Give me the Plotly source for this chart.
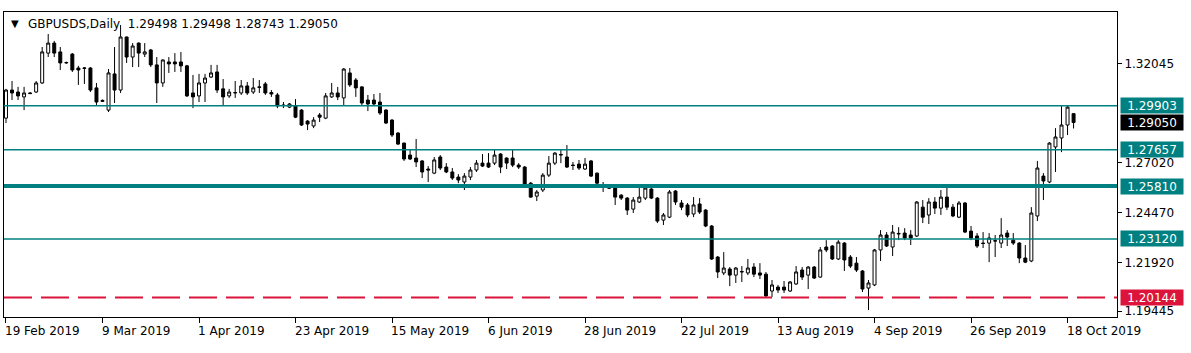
import plotly.graph_objects as go

# ---- data ----
open_ = [1.2927,1.3070,1.3060,1.3035,1.3055,1.3060,1.3106,1.3258,1.3309,1.3264,
         1.3208,1.3253,1.3182,1.3180,1.3182,1.3081,1.3012,1.2968,1.3152,1.3070,
         1.3340,1.3238,1.3309,1.3253,1.3274,1.3198,1.3106,1.3213,1.3213,1.3213,
         1.3193,1.3055,1.3040,1.3106,1.3136,1.3162,1.3076,1.3040,1.3055,1.3055,
         1.3091,1.3060,1.3086,1.3101,1.3057,1.3045,1.2994,1.2983,1.2989,1.2968,
         1.2912,1.2887,1.2943,1.2927,1.3035,1.3055,1.3030,1.3157,1.3121,1.3086,
         1.3019,1.3019,1.3009,1.2968,1.2917,1.2851,1.2800,1.2739,1.2724,1.2709,
         1.2668,1.2647,1.2729,1.2678,1.2653,1.2627,1.2602,1.2627,1.2663,1.2698,
         1.2698,1.2698,1.2744,1.2724,1.2724,1.2688,1.2678,1.2596,1.2530,1.2561,
         1.2637,1.2698,1.2739,1.2729,1.2688,1.2693,1.2668,1.2709,1.2647,1.2586,
         1.2573,1.2571,1.2535,1.2520,1.2464,1.2500,1.2520,1.2566,1.2520,1.2408,
         1.2423,1.2556,1.2495,1.2485,1.2439,1.2490,1.2459,1.2378,1.2220,1.2139,
         1.2159,1.2128,1.2144,1.2139,1.2169,1.2139,1.2133,1.2047,1.2067,1.2067,
         1.2047,1.2083,1.2154,1.2128,1.2169,1.2118,1.2271,1.2276,1.2210,1.2291,
         1.2220,1.2189,1.2149,1.2062,1.2078,1.2256,1.2332,1.2271,1.2337,1.2342,
         1.2332,1.2327,1.2474,1.2434,1.2500,1.2469,1.2525,1.2474,1.2423,1.2495,
         1.2352,1.2327,1.2291,1.2291,1.2301,1.2291,1.2342,1.2306,1.2291,1.2215,
         1.2200,1.2429,1.2632,1.2602,1.2780,1.2826,1.2892,1.29498]
high = [1.3076,1.3116,1.3086,1.3086,1.3060,1.3116,1.3289,1.3355,1.3320,1.3289,
        1.3215,1.3258,1.3193,1.3187,1.3187,1.3106,1.3022,1.3177,1.3289,1.3401,
        1.3342,1.3309,1.3312,1.3309,1.3279,1.3238,1.3226,1.3238,1.3258,1.3264,
        1.3198,1.3147,1.3152,1.3152,1.3198,1.3198,1.3126,1.3076,1.3116,1.3121,
        1.3111,1.3131,1.3121,1.3111,1.3070,1.3055,1.3009,1.3004,1.3024,1.2973,
        1.2917,1.2932,1.2953,1.3055,1.3106,1.3086,1.3182,1.3182,1.3131,1.3089,
        1.3045,1.3050,1.3055,1.2973,1.2922,1.2856,1.2802,1.2765,1.2821,1.2714,
        1.2683,1.2729,1.2739,1.2698,1.2673,1.2642,1.2647,1.2678,1.2714,1.2744,
        1.2749,1.2765,1.2749,1.2727,1.2765,1.2698,1.2683,1.2602,1.2561,1.2647,
        1.2734,1.2754,1.2770,1.2790,1.2704,1.2714,1.2724,1.2714,1.2650,1.2602,
        1.2576,1.2576,1.2540,1.2525,1.2525,1.2571,1.2576,1.2571,1.2525,1.2444,
        1.2561,1.2561,1.2510,1.2495,1.2525,1.2520,1.2464,1.2383,1.2225,1.2245,
        1.2169,1.2169,1.2174,1.2210,1.2189,1.2189,1.2144,1.2103,1.2078,1.2098,
        1.2098,1.2174,1.2169,1.2174,1.2174,1.2271,1.2306,1.2281,1.2306,1.2296,
        1.2230,1.2220,1.2154,1.2103,1.2261,1.2357,1.2347,1.2383,1.2372,1.2367,
        1.2357,1.2505,1.2510,1.2520,1.2525,1.2561,1.2576,1.2490,1.2505,1.2500,
        1.2378,1.2342,1.2347,1.2342,1.2332,1.2418,1.2357,1.2342,1.2296,1.2281,
        1.2474,1.2709,1.2647,1.2805,1.2876,1.2989,1.2990,1.29498]
low = [1.2902,1.3019,1.3019,1.2968,1.3050,1.3055,1.3101,1.3238,1.3238,1.3172,
       1.3203,1.3162,1.3096,1.3101,1.3060,1.2994,1.3009,1.2958,1.3004,1.3055,
       1.3208,1.3187,1.3187,1.3238,1.3187,1.3004,1.3086,1.3157,1.3162,1.3162,
       1.3035,1.2978,1.3009,1.3009,1.3131,1.3055,1.2994,1.3030,1.3030,1.3045,
       1.3045,1.3050,1.3055,1.3045,1.3035,1.2978,1.2978,1.2978,1.2927,1.2887,
       1.2866,1.2876,1.2907,1.2922,1.3030,1.3019,1.2994,1.3086,1.3035,1.2994,
       1.2963,1.2989,1.2943,1.2897,1.2831,1.2790,1.2709,1.2714,1.2678,1.2622,
       1.2602,1.2642,1.2663,1.2647,1.2612,1.2596,1.2561,1.2612,1.2653,1.2678,
       1.2673,1.2688,1.2647,1.2668,1.2678,1.2668,1.2574,1.2522,1.2505,1.2551,
       1.2627,1.2688,1.2698,1.2673,1.2663,1.2663,1.2663,1.2627,1.2586,1.2551,
       1.2566,1.2485,1.2510,1.2434,1.2444,1.2495,1.2510,1.2515,1.2393,1.2383,
       1.2418,1.2485,1.2459,1.2423,1.2423,1.2439,1.2372,1.2205,1.2113,1.2128,
       1.2072,1.2088,1.2093,1.2128,1.2118,1.2108,1.2017,1.2017,1.2037,1.2037,
       1.2042,1.2078,1.2103,1.2057,1.2108,1.2115,1.2245,1.2205,1.2205,1.2149,
       1.2164,1.2144,1.2042,1.1950,1.2072,1.2200,1.2271,1.2225,1.2306,1.2306,
       1.2281,1.2322,1.2393,1.2388,1.2439,1.2434,1.2459,1.2423,1.2418,1.2342,
       1.2306,1.2266,1.2266,1.2194,1.2220,1.2266,1.2276,1.2281,1.2189,1.2189,
       1.2194,1.2403,1.2510,1.2596,1.2653,1.2754,1.2841,1.28743]
close = [1.3070,1.3055,1.3040,1.3055,1.3052,1.3106,1.3264,1.3309,1.3258,1.3208,
         1.3210,1.3172,1.3172,1.3182,1.3070,1.3009,1.3017,1.3157,1.3070,1.3340,
         1.3238,1.3294,1.3258,1.3264,1.3198,1.3106,1.3223,1.3203,1.3203,1.3193,
         1.3040,1.3035,1.3106,1.3131,1.3157,1.3070,1.3035,1.3060,1.3057,1.3091,
         1.3055,1.3081,1.3084,1.3055,1.3050,1.2989,1.2991,1.2999,1.2932,1.2892,
         1.2897,1.2917,1.2932,1.3040,1.3055,1.3035,1.3177,1.3096,1.3081,1.3004,
         1.2999,1.2999,1.2953,1.2902,1.2841,1.2795,1.2719,1.2719,1.2704,1.2653,
         1.2663,1.2714,1.2673,1.2653,1.2622,1.2612,1.2632,1.2663,1.2698,1.2683,
         1.2678,1.2739,1.2678,1.2698,1.2688,1.2678,1.2576,1.2525,1.2551,1.2637,
         1.2698,1.2749,1.2742,1.2678,1.2686,1.2673,1.2693,1.2632,1.2596,1.2584,
         1.2571,1.2525,1.2520,1.2459,1.2510,1.2525,1.2571,1.2520,1.2403,1.2434,
         1.2551,1.2500,1.2474,1.2434,1.2485,1.2449,1.2378,1.2210,1.2144,1.2164,
         1.2128,1.2164,1.2146,1.2164,1.2133,1.2128,1.2022,1.2078,1.2052,1.2052,
         1.2093,1.2144,1.2118,1.2169,1.2113,1.2256,1.2256,1.2210,1.2296,1.2205,
         1.2174,1.2154,1.2057,1.2088,1.2256,1.2332,1.2276,1.2347,1.2340,1.2317,
         1.2317,1.2500,1.2423,1.2500,1.2469,1.2525,1.2474,1.2429,1.2495,1.2347,
         1.2317,1.2276,1.2289,1.2317,1.2303,1.2332,1.2322,1.2291,1.2215,1.2194,
         1.2444,1.2673,1.2607,1.2800,1.2831,1.2892,1.2983,1.29050]

date_labels = ["19 Feb 2019", "9 Mar 2019", "1 Apr 2019", "23 Apr 2019", "15 May 2019",
               "6 Jun 2019", "28 Jun 2019", "22 Jul 2019", "13 Aug 2019", "4 Sep 2019",
               "26 Sep 2019", "18 Oct 2019"]
bars_per_label = 16

axis_ticks = [1.32045, 1.27020, 1.24470, 1.21920, 1.19445]
level_lines = [1.29903, 1.27657, 1.23120]
major_level = 1.25810
support_level = 1.20144
symbol = "GBPUSDS,Daily"

# ---- figure ----
FONT = "DejaVu Sans"
TEAL = "#008080"
CRIMSON = "#DC143C"

x = list(range(len(close)))
tick_pos = [i * bars_per_label for i in range(len(date_labels))]

fig = go.Figure(go.Candlestick(
    x=x, open=open_, high=high, low=low, close=close,
    increasing=dict(line=dict(color="black", width=1), fillcolor="white"),
    decreasing=dict(line=dict(color="black", width=1), fillcolor="black"),
    whiskerwidth=0, showlegend=False, hoverinfo="skip",
))

shapes = []
for lv in level_lines:
    shapes.append(dict(type="line", xref="paper", x0=0, x1=1, yref="y", y0=lv, y1=lv,
                       line=dict(color=TEAL, width=1.6), layer="above"))
shapes.append(dict(type="line", xref="paper", x0=0, x1=1, yref="y", y0=major_level, y1=major_level,
                   line=dict(color=TEAL, width=4), layer="above"))
shapes.append(dict(type="line", xref="paper", x0=0, x1=1, yref="y", y0=support_level, y1=support_level,
                   line=dict(color=CRIMSON, width=2, dash="28px,9px"), layer="above"))
fig.update_layout(shapes=shapes)

annotations = []
# date labels (left aligned at tick, MT4 style)
for pos, lab in zip(tick_pos, date_labels):
    annotations.append(dict(x=pos, xref="x", y=0, yref="paper", yanchor="top", xanchor="left",
                            yshift=-5, xshift=-3, text=lab, showarrow=False,
                            font=dict(family=FONT, size=12, color="black")))

def price_box(v, bg):
    return dict(x=1, xref="paper", y=v, yref="y", xanchor="left", yanchor="middle",
                xshift=3, text=f"{v:.5f}", showarrow=False, bgcolor=bg, borderpad=1,
                width=60, height=13, align="center",
                font=dict(family=FONT, size=12, color="white"))

for lv in level_lines + [major_level]:
    annotations.append(price_box(lv, TEAL))
annotations.append(price_box(support_level, CRIMSON))
annotations.append(price_box(close[-1], "black"))

# header
annotations.append(dict(x=0, xref="paper", y=1, yref="paper", xanchor="left", yanchor="top",
                        xshift=5, yshift=-4, text="▼", showarrow=False,
                        font=dict(family=FONT, size=10, color="black")))
header = f"{symbol}\u00a0\u00a0{open_[-1]:.5f} {high[-1]:.5f} {low[-1]:.5f} {close[-1]:.5f}"
annotations.append(dict(x=0, xref="paper", y=1, yref="paper", xanchor="left", yanchor="top",
                        xshift=22, yshift=-3, text=header, showarrow=False,
                        font=dict(family=FONT, size=12, color="black")))
fig.update_layout(annotations=annotations)

fig.update_layout(
    width=1191, height=353,
    margin=dict(l=4, r=74, t=12, b=36),
    paper_bgcolor="white", plot_bgcolor="white",
    font=dict(family=FONT, size=12, color="black"),
    xaxis=dict(range=[-0.33, 184.2], tickvals=tick_pos, showticklabels=False,
               ticks="outside", ticklen=5, tickcolor="black", showgrid=False, zeroline=False,
               showline=True, linecolor="black", linewidth=1, mirror=True,
               rangeslider=dict(visible=False)),
    yaxis=dict(side="right", range=[1.19148, 1.34672], tickvals=axis_ticks,
               ticktext=[f"{t:.5f}" for t in axis_ticks], ticks="outside", ticklen=4,
               tickcolor="black", showgrid=False, zeroline=False,
               showline=True, linecolor="black", linewidth=1, mirror=True,
               tickfont=dict(family=FONT, size=12, color="black")),
)

fig.write_html("out.html")
